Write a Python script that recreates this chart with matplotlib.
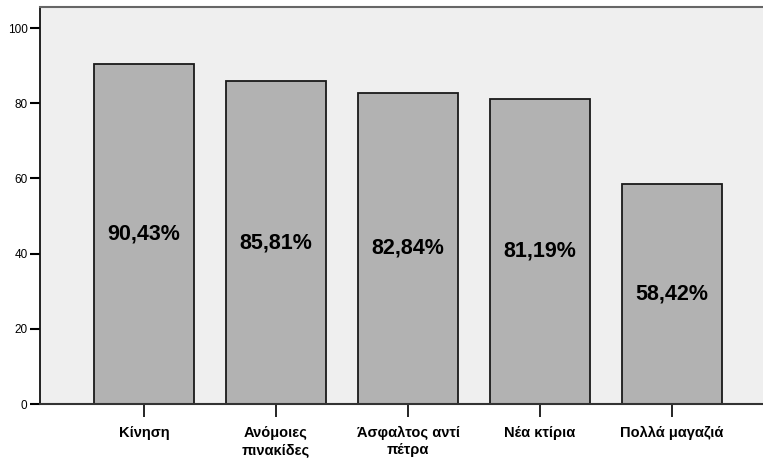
import numpy as np
import matplotlib.pyplot as plt

plt.rcParams['font.family'] = ['Liberation Sans', 'DejaVu Sans']

# Δεδομένα του διαγράμματος
categories = ['Κίνηση', 'Ανόμοιες\nπινακίδες', 'Άσφαλτος αντί\nπέτρα', 'Νέα κτίρια', 'Πολλά μαγαζιά']
values = [90.43, 85.81, 82.84, 81.19, 58.42]
value_labels = ['90,43%', '85,81%', '82,84%', '81,19%', '58,42%']
yticks = [0, 20, 40, 60, 80, 100]

W, H = 763, 461
fig = plt.figure(figsize=(W / 100, H / 100), dpi=100)
ax = fig.add_axes([40 / W, (H - 404) / H, (W - 40) / W, (404 - 7) / H])
ax.set_facecolor('#efefef')

x = np.arange(len(categories))
ax.bar(x, values, width=0.758, color='#b2b2b2', edgecolor='#1a1a1a', linewidth=1.3, zorder=2)

# Ετικέτες ποσοστών στο μέσο κάθε μπάρας
for xi, v, lab in zip(x, values, value_labels):
    ax.text(xi, v / 2, lab, ha='center', va='center', fontsize=15.5, fontweight='bold', zorder=3)

ax.set_xlim(-0.788, 4.689)
ax.set_ylim(0, 105.6)
ax.set_yticks(yticks)
ax.set_xticks(x)
ax.set_xticklabels(categories, fontsize=10.5, fontweight='bold', linespacing=1.3)
ax.tick_params(axis='y', direction='out', length=7, width=1.5, labelsize=8.5, pad=2)
ax.tick_params(axis='x', direction='out', length=9.5, width=1.2, pad=6)

ax.spines['right'].set_visible(False)
ax.spines['left'].set_color('#111111')
ax.spines['left'].set_linewidth(1.3)
ax.spines['bottom'].set_color('#333333')
ax.spines['bottom'].set_linewidth(1.5)
ax.spines['top'].set_color('#666666')
ax.spines['top'].set_linewidth(1.5)

fig.savefig('out.png', dpi=100)
